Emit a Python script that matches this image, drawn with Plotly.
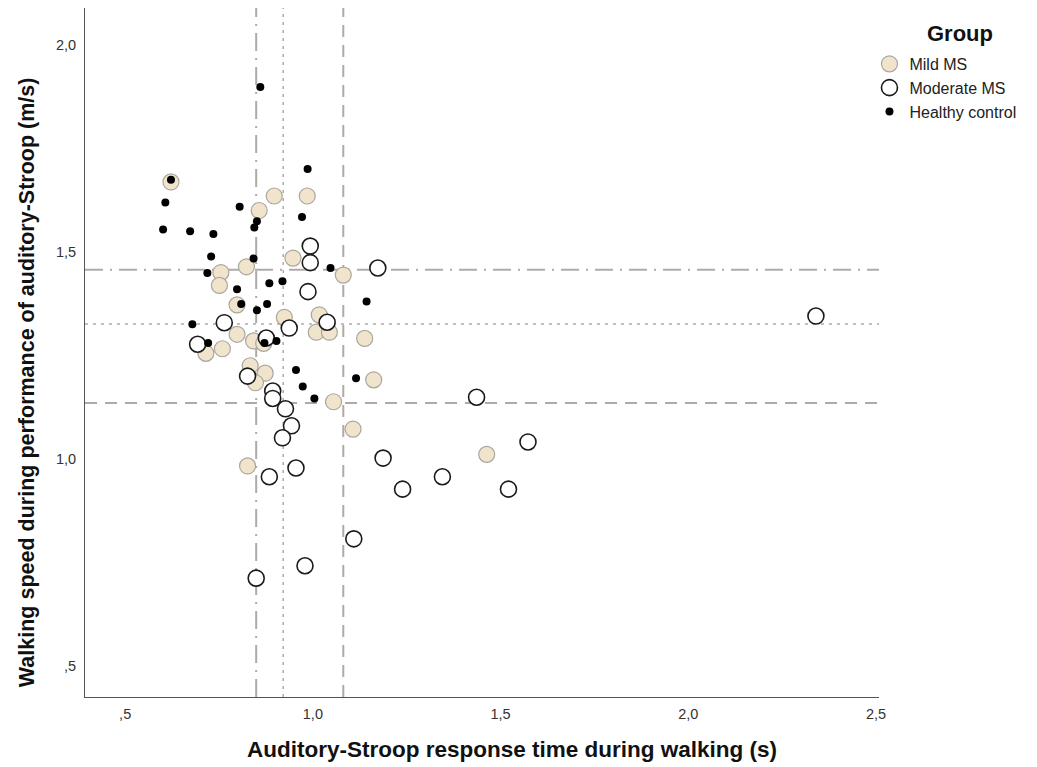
import plotly.graph_objects as go

# ---- data ----
mild_x = [0.622, 0.897, 0.985, 0.857, 0.947, 0.823, 0.755, 1.081, 0.751, 0.798,
          0.924, 1.017, 1.009, 1.044, 0.798, 0.842, 0.869, 1.138, 0.715, 0.759,
          0.833, 0.873, 0.847, 1.162, 1.055, 1.107, 0.826, 1.463]
mild_y = [1.669, 1.635, 1.635, 1.600, 1.485, 1.464, 1.450, 1.444, 1.419, 1.372,
          1.342, 1.348, 1.306, 1.306, 1.301, 1.285, 1.279, 1.291, 1.255, 1.266,
          1.225, 1.207, 1.184, 1.191, 1.138, 1.072, 0.983, 1.011]

moderate_x = [0.993, 0.993, 1.173, 0.987, 0.764, 0.937, 1.038, 0.693, 0.876, 0.826,
              0.893, 0.893, 0.927, 0.943, 0.919, 0.955, 0.884, 1.187, 1.239, 1.109,
              0.979, 0.849, 1.436, 1.573, 1.345, 1.521, 2.340]
moderate_y = [1.514, 1.474, 1.461, 1.404, 1.329, 1.316, 1.330, 1.277, 1.292, 1.200,
              1.164, 1.146, 1.121, 1.080, 1.051, 0.978, 0.957, 1.002, 0.927, 0.807,
              0.742, 0.712, 1.149, 1.041, 0.957, 0.927, 1.345]

healthy_x = [0.860, 0.622, 0.607, 0.805, 0.986, 0.971, 0.851, 0.844, 0.601, 0.673,
             0.735, 0.729, 0.842, 0.719, 1.047, 0.884, 0.919, 0.798, 0.809, 0.878,
             0.851, 1.143, 0.679, 0.721, 0.871, 0.903, 0.955, 0.973, 1.004, 1.115]
healthy_y = [1.898, 1.674, 1.619, 1.609, 1.700, 1.584, 1.574, 1.559, 1.554, 1.550,
             1.543, 1.489, 1.484, 1.449, 1.461, 1.424, 1.429, 1.410, 1.374, 1.374,
             1.359, 1.380, 1.325, 1.280, 1.280, 1.285, 1.215, 1.175, 1.146, 1.195]

# group reference lines (x = mean RT, y = mean speed)
ref_x = {"dashdot": 0.849, "dot": 0.921, "dash": 1.081}
ref_y = {"dashdot": 1.457, "dot": 1.326, "dash": 1.135}

x_ticks = [0.5, 1.0, 1.5, 2.0, 2.5]
x_ticktext = [",5", "1,0", "1,5", "2,0", "2,5"]
y_ticks = [0.5, 1.0, 1.5, 2.0]
y_ticktext = [",5", "1,0", "1,5", "2,0"]

x_title = "Auditory-Stroop response time during walking (s)"
y_title = "Walking speed during performance of auditory-Stroop (m/s)"
legend_title = "Group"

FONT = "Liberation Sans, Arial, sans-serif"

fig = go.Figure()
fig.add_trace(go.Scatter(
    x=mild_x, y=mild_y, mode="markers", name="Mild MS", legendgroup="a",
    marker=dict(size=16, color="#F1E4CC", line=dict(color="#ABA69E", width=1.2))))
fig.add_trace(go.Scatter(
    x=moderate_x, y=moderate_y, mode="markers", name="Moderate MS", legendgroup="b",
    marker=dict(size=16, color="white", line=dict(color="#1a1a1a", width=1.6))))
fig.add_trace(go.Scatter(
    x=healthy_x, y=healthy_y, mode="markers", name="Healthy control", legendgroup="c",
    marker=dict(size=8, color="black", line=dict(width=0))))

dash_styles = {"dashdot": ("18px,7px,2px,7px", 2), "dot": ("3px,5px", 1.5), "dash": ("12px,8px", 2)}
for k, (d, w) in dash_styles.items():
    fig.add_shape(type="line", xref="x", yref="paper", x0=ref_x[k], x1=ref_x[k], y0=0, y1=1,
                  line=dict(color="#AEAAA6", width=w, dash=d), layer="below")
    fig.add_shape(type="line", xref="paper", yref="y", x0=0, x1=1, y0=ref_y[k], y1=ref_y[k],
                  line=dict(color="#AEAAA6", width=w, dash=d), layer="below")

fig.add_annotation(text=f"<b>{x_title}</b>", xref="paper", yref="paper",
                   x=0.5378, y=-0.0769, xanchor="center", yanchor="middle", showarrow=False,
                   font=dict(size=22.5, color="#111"))
fig.add_annotation(text=f"<b>{y_title}</b>", xref="paper", yref="paper", textangle=-90,
                   x=-0.073, y=0.457, xanchor="center", yanchor="middle", showarrow=False,
                   font=dict(size=21.5, color="#111"))
fig.add_annotation(text=f"<b>{legend_title}</b>", xref="paper", yref="paper",
                   x=1.102, y=0.9637, xanchor="center", yanchor="middle", showarrow=False,
                   font=dict(size=22, color="#111"))

fig.update_layout(
    width=1029, height=759,
    margin=dict(l=77, r=158, t=0, b=70),
    paper_bgcolor="white", plot_bgcolor="white",
    font=dict(family=FONT, color="#222"),
    showlegend=True,
    legend=dict(
        x=0.988, y=0.9435, xanchor="left", yanchor="top",
        font=dict(size=16, color="#222"), tracegroupgap=0,
        itemsizing="trace", bgcolor="rgba(0,0,0,0)"),
    xaxis=dict(
        range=[0.393, 2.508], showgrid=False, zeroline=False,
        showline=True, linecolor="#555", linewidth=1,
        tickmode="array", tickvals=x_ticks, ticktext=x_ticktext,
        ticks="", tickfont=dict(size=14.5, color="#333"), ticklabelstandoff=4),
    yaxis=dict(
        range=[0.425, 2.089], showgrid=False, zeroline=False,
        showline=True, linecolor="#555", linewidth=1,
        tickmode="array", tickvals=y_ticks, ticktext=y_ticktext,
        ticks="", tickfont=dict(size=14.5, color="#333"), ticklabelstandoff=5),
)

fig.write_html("out.html")
